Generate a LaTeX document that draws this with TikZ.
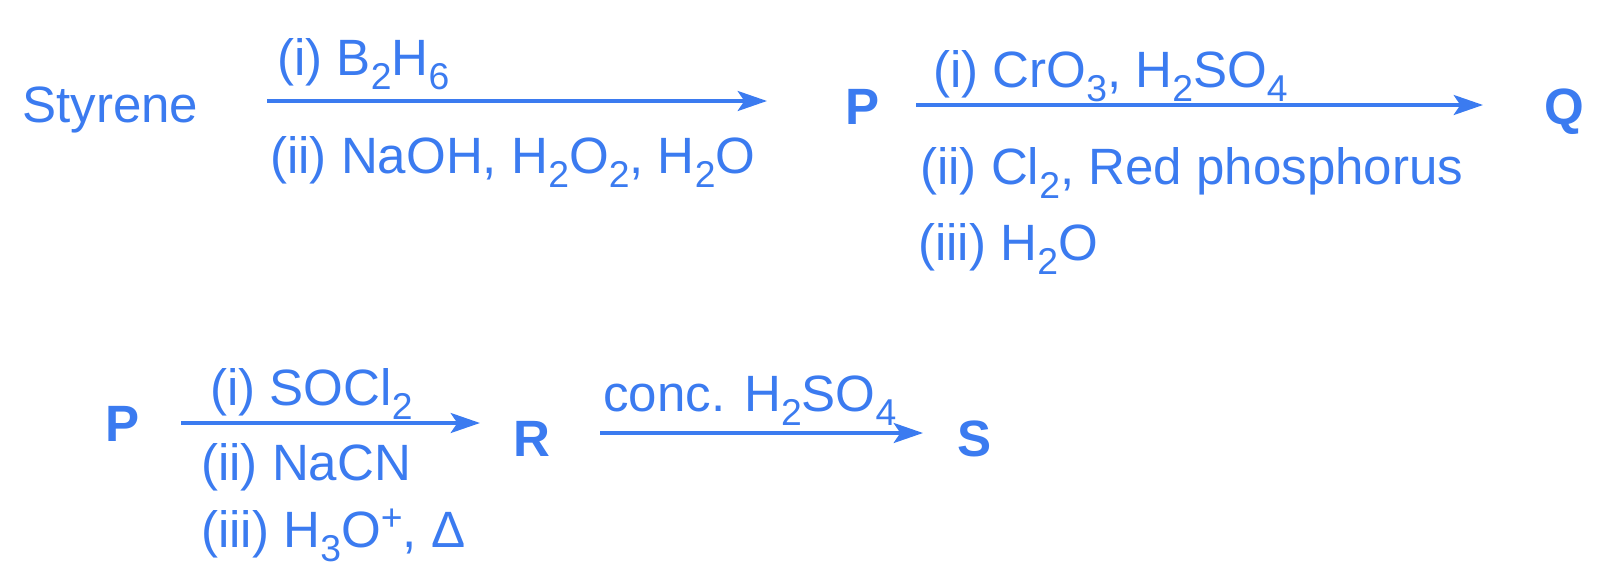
\documentclass[tikz,border=0pt]{standalone}
\usepackage{fontspec}
\setmainfont{Liberation Sans}
\usetikzlibrary{arrows.meta}
\definecolor{rxnblue}{RGB}{59,123,240}
\newcommand\chsub[1]{\raisebox{-0.28em}{\fontsize{28}{28}\selectfont #1}}
\newcommand\chsup[1]{\raisebox{0.32em}{\fontsize{28}{28}\selectfont #1}}
\tikzset{
  reag/.style={anchor=base west, inner sep=0pt, text=rxnblue, font=\fontsize{38.3}{46}\selectfont},
  cmpd/.style={reag, font=\fontsize{38.3}{46}\selectfont\bfseries},
  rxnarrow/.style={draw=rxnblue, line width=2.6pt, -{Stealth[length=22pt,width=15pt,inset=5pt]}},
}
\begin{document}
\begin{tikzpicture}[x=0.75pt,y=0.75pt,yscale=-1,xscale=1]
\path[use as bounding box] (0,0) rectangle (1600,568);
% first step: Styrene to P
\node[reag] (styrene) at (22,122) {Styrene};
\node[reag] (hydro1) at (277,75) {(i) B\chsub{2}H\chsub{6}};
\node[reag] (hydro2) at (270,173) {(ii) NaOH, H\chsub{2}O\chsub{2}, H\chsub{2}O};
\node[cmpd] (p1) at (845,124) {P};
\coordinate (a1s) at (267,101);
\coordinate (a1e) at (767,101);
\draw[rxnarrow] (a1s) -- (a1e);
% second step: P to Q
\node[reag] (oxid1) at (933,87) {(i) CrO\chsub{3}, H\chsub{2}SO\chsub{4}};
\node[reag] (oxid2) at (920,184) {(ii) Cl\chsub{2}, Red phosphorus};
\node[reag] (oxid3) at (918,260) {(iii) H\chsub{2}O};
\node[cmpd] (q) at (1544,124) {Q};
\coordinate (a2s) at (916,105);
\coordinate (a2e) at (1483,105);
\draw[rxnarrow] (a2s) -- (a2e);
% third step: P to R
\node[cmpd] (p2) at (105,441) {P};
\node[reag] (chain1) at (210,405) {(i) SOCl\chsub{2}};
\node[reag] (chain2) at (201,480) {(ii) NaCN};
\node[reag] (chain3) at (201,547) {(iii) H\chsub{3}O\chsup{+}, Δ};
\node[cmpd] (r) at (513,456) {R};
\coordinate (a3s) at (181,423);
\coordinate (a3e) at (480,423);
\draw[rxnarrow] (a3s) -- (a3e);
% fourth step: R to S
\node[reag] (acid) at (603,411) {conc. H\chsub{2}SO\chsub{4}};
\node[cmpd] (s) at (957,456) {S};
\coordinate (a4s) at (600,433);
\coordinate (a4e) at (923,433);
\draw[rxnarrow] (a4s) -- (a4e);
\end{tikzpicture}
\end{document}
